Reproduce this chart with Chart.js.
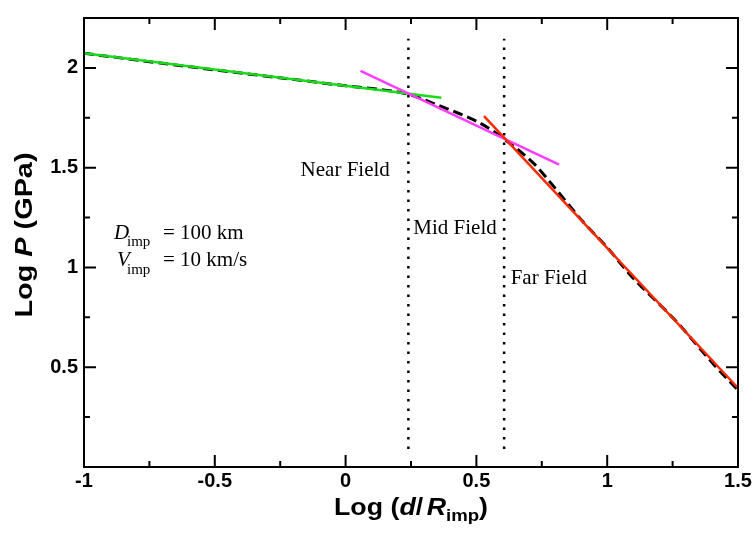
<!DOCTYPE html>
<html>
<head>
<meta charset="utf-8">
<script src="https://cdn.jsdelivr.net/npm/chart.js@4.4.0/dist/chart.umd.min.js"></script>
<style>
  html, body { margin: 0; padding: 0; background: #fff; }
  #wrap { width: 755px; height: 536px; }
</style>
</head>
<body>
<div id="wrap"><canvas id="impactChart"></canvas></div>
<script>
// tick values and labels
const xTicks = [-1, -0.5, 0, 0.5, 1, 1.5];
const xTickLabels = ['-1', '-0.5', '0', '0.5', '1', '1.5'];
const xMinorTicks = [-0.75, -0.25, 0.25, 0.75, 1.25];
const yTicks = [0.5, 1, 1.5, 2];
const yTickLabels = ['0.5', '1', '1.5', '2'];
const yMinorTicks = [0.25, 0.75, 1.25, 1.75];

// near / mid / far field power-law fits
const nearX = [-1, 0.366];
const nearY = [2.073, 1.85];
const midX = [0.057, 0.816];
const midY = [1.985, 1.515];
const farX = [0.529, 1.5];
const farY = [1.758, 0.396];

// full pressure decay curve (dashed)
const fullX = [-1, -0.5, 0, 0.24, 0.33, 0.41, 0.5, 0.56, 0.606, 0.72, 0.78, 0.91, 1.0, 1.09, 1.26, 1.41, 1.5];
const fullY = [2.073, 1.99, 1.91, 1.868, 1.825, 1.784, 1.733, 1.687, 1.644, 1.52, 1.43, 1.225, 1.1, 0.96, 0.735, 0.51, 0.385];

// region boundaries (dotted)
const boundaryX = [0.24, 0.606];
const boundaryY = [0.09, 2.146];

const toPoints = (xs, ys) => xs.map((x, i) => ({ x: x, y: ys[i] }));

const serif = 'Liberation Serif, Times New Roman, serif';
const sans = 'Liberation Sans, Arial, Helvetica, sans-serif';

// draws a run of differently styled pieces of text
function drawRuns(ctx, runs, x, y, align, stretch) {
  let total = 0;
  runs.forEach(r => { ctx.font = r.font; r.w = ctx.measureText(r.t).width + (r.gap || 0); total += r.w; });
  ctx.save();
  ctx.translate(x, y);
  ctx.scale(stretch || 1, 1);
  let cx = align === 'center' ? -total / 2 : 0;
  ctx.textAlign = 'left';
  ctx.textBaseline = 'alphabetic';
  runs.forEach(r => {
    ctx.font = r.font;
    ctx.fillText(r.t, cx + (r.dx || 0), r.dy || 0);
    cx += r.w;
  });
  ctx.restore();
  return total;
}

const framePlugin = {
  id: 'frame',
  afterDatasetsDraw(chart) {
    const ctx = chart.ctx;
    const a = chart.chartArea;
    const xs = chart.scales.x, ys = chart.scales.y;
    ctx.save();
    ctx.strokeStyle = '#000';
    ctx.lineWidth = 2;
    ctx.strokeRect(a.left, a.top, a.right - a.left, a.bottom - a.top);
    ctx.beginPath();
    const tick = (v, len, horiz) => {
      if (horiz) {
        const p = xs.getPixelForValue(v);
        ctx.moveTo(p, a.bottom); ctx.lineTo(p, a.bottom - len);
        ctx.moveTo(p, a.top); ctx.lineTo(p, a.top + len);
      } else {
        const p = ys.getPixelForValue(v);
        ctx.moveTo(a.left, p); ctx.lineTo(a.left + len, p);
        ctx.moveTo(a.right, p); ctx.lineTo(a.right - len, p);
      }
    };
    xTicks.forEach(v => tick(v, 12, true));
    xMinorTicks.forEach(v => tick(v, 6, true));
    yTicks.forEach(v => tick(v, 12, false));
    yMinorTicks.forEach(v => tick(v, 6, false));
    ctx.stroke();

    ctx.fillStyle = '#000';
    // region labels
    const px = v => xs.getPixelForValue(v);
    const py = v => ys.getPixelForValue(v);
    const f21 = '21px ' + serif;
    drawRuns(ctx, [{ t: 'Near Field', font: f21 }], px(-0.172), py(1.46));
    drawRuns(ctx, [{ t: 'Mid Field', font: f21 }], px(0.259), py(1.167));
    drawRuns(ctx, [{ t: 'Far Field', font: f21 }], px(0.631), py(0.916));

    // impactor parameters
    const sub = '15px ' + serif;
    drawRuns(ctx, [{ t: 'D', font: 'italic 21px ' + serif }], 114, py(1.143));
    drawRuns(ctx, [{ t: 'imp', font: sub }], 127, py(1.143) + 7);
    drawRuns(ctx, [{ t: '= 100 km', font: f21 }], 163, py(1.143));
    drawRuns(ctx, [{ t: 'V', font: 'italic 21px ' + serif }], 117, py(1.007));
    drawRuns(ctx, [{ t: 'imp', font: sub }], 127, py(1.007) + 8);
    drawRuns(ctx, [{ t: '= 10 km/s', font: f21 }], 163, py(1.007));

    // axis titles
    const b = 'bold 23px ' + sans;
    const bi = 'italic bold 23px ' + sans;
    const xRuns = [
      { t: 'Log (', font: b }, { t: 'd', font: bi }, { t: '/', font: b, gap: 3 },
      { t: 'R', font: bi }, { t: 'imp', font: 'bold 16px ' + sans, dy: 6 }, { t: ')', font: b }
    ];
    let w = drawRuns(ctx, xRuns.map(r => Object.assign({}, r)), -9999, -9999);
    drawRuns(ctx, xRuns, (a.left + a.right) / 2, 515, 'center', 154 / w);

    const yRuns = [{ t: 'Log ', font: b }, { t: 'P', font: bi }, { t: ' (GPa)', font: b }];
    w = drawRuns(ctx, yRuns.map(r => Object.assign({}, r)), -9999, -9999);
    ctx.save();
    ctx.translate(32, 235);
    ctx.rotate(-Math.PI / 2);
    drawRuns(ctx, yRuns, 0, 0, 'center', 165 / w);
    ctx.restore();
    ctx.restore();
  }
};

const tickFont = { family: sans, weight: 'bold', size: 20 };

new Chart(document.getElementById('impactChart').getContext('2d'), {
  type: 'line',
  data: {
    datasets: [
      { data: toPoints([boundaryX[0], boundaryX[0]], boundaryY), borderColor: '#000', borderWidth: 2.5, borderDash: [2.5, 7], order: 10 },
      { data: toPoints([boundaryX[1], boundaryX[1]], boundaryY), borderColor: '#000', borderWidth: 2.5, borderDash: [2.5, 7], order: 10 },
      { data: toPoints(fullX, fullY), borderColor: '#000', borderWidth: 3, borderDash: [10, 5], cubicInterpolationMode: 'monotone', order: 5 },
      { data: toPoints(nearX, nearY), borderColor: '#18dc18', borderWidth: 2.5, order: 3 },
      { data: toPoints(midX, midY), borderColor: '#ff3cff', borderWidth: 2.5, order: 2 },
      { data: toPoints(farX, farY), borderColor: '#ff2a00', borderWidth: 2.5, order: 1 }
    ]
  },
  options: {
    responsive: true,
    maintainAspectRatio: false,
    animation: false,
    layout: { padding: { top: 9, right: 17, left: 0, bottom: 0 } },
    plugins: { legend: { display: false }, tooltip: { enabled: false } },
    elements: { point: { radius: 0 }, line: { tension: 0 } },
    scales: {
      x: {
        type: 'linear', min: -1, max: 1.5,
        grid: { display: false, drawTicks: false },
        border: { display: false },
        ticks: { font: tickFont, color: '#000', padding: 2, maxRotation: 0,
          callback: v => xTickLabels[xTicks.indexOf(v)] },
        afterBuildTicks: s => { s.ticks = xTicks.map(v => ({ value: v })); },
        afterFit: s => { s.height = 69; }
      },
      y: {
        type: 'linear', min: 0, max: 2.25,
        grid: { display: false, drawTicks: false },
        border: { display: false },
        ticks: { font: tickFont, color: '#000', padding: 6,
          callback: v => yTickLabels[yTicks.indexOf(v)] },
        afterBuildTicks: s => { s.ticks = yTicks.map(v => ({ value: v })); },
        afterFit: s => { s.width = 84; }
      }
    }
  },
  plugins: [framePlugin]
});
</script>
</body>
</html>
